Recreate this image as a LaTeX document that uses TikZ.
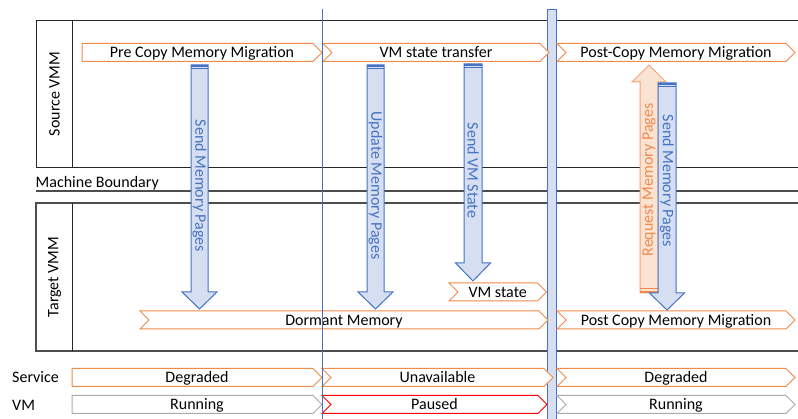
\documentclass[tikz,border=0pt]{standalone}
\usepackage{fontspec}
\setmainfont{Carlito}
\definecolor{accblue}{HTML}{4472C4}
\definecolor{lightblue}{HTML}{D6DFF2}
\definecolor{chevorange}{HTML}{F08A4B}
\definecolor{arroworange}{HTML}{F4A373}
\definecolor{lightorange}{HTML}{FBE3D4}
\definecolor{chevgray}{HTML}{ABABAB}
\definecolor{chevred}{HTML}{FF0000}
\definecolor{framegray}{HTML}{4D4D4D}

% chevron: #1 style, #2 name, #3 left x, #4 tip x, #5 centre y, #6 notch depth, #7 label
\newcommand\chevron[7]{%
  \draw[#1] (#3,#5-9) -- ({#4-9},#5-9) -- (#4,#5) -- ({#4-9},#5+9) -- (#3,#5+9) -- ({#3+#6},#5) -- cycle;
  \node[chevtext] (#2) at ({(#3+#4)/2},#5+5.3) {#7};
}
% downward block arrow: #1 shaft left, #2 shaft right, #3 top, #4 head base, #5 tip, #6 head half width
\newcommand\flowdown[6]{%
  \draw[blueflow] (#1,#3) -- (#2,#3) -- (#2,#4) -- ({(#1+#2)/2+#6},#4) -- ({(#1+#2)/2},#5)
    -- ({(#1+#2)/2-#6},#4) -- (#1,#4) -- cycle;
  \fill[accblue] (#1,#3) rectangle (#2,#3+2);
  \fill[accblue] (#1,#3+3.5) rectangle (#2,#3+4.5);
}

\tikzset{
  basefont/.style={font=\fontsize{16}{19}\selectfont},
  chevtext/.style={basefont, inner sep=0pt, text=black, anchor=base},
  orangechev/.style={draw=chevorange, line width=1pt, fill=white},
  graychev/.style={draw=chevgray, line width=1pt, fill=white},
  redchev/.style={draw=chevred, line width=1pt, fill=white},
  blueflow/.style={draw=accblue, line width=1pt, fill=lightblue},
  orangeflow/.style={draw=arroworange, line width=1pt, fill=lightorange},
  flowtext/.style={basefont, inner sep=0pt, text=accblue},
  reqtext/.style={basefont, inner sep=0pt, text=chevorange},
  frame/.style={draw=black!85, line width=0.9pt},
  rowlabel/.style={basefont, inner sep=0pt, anchor=base west},
}

\begin{document}
\begin{tikzpicture}[x=1pt, y=-1pt]
\useasboundingbox (0,0) rectangle (798,419);

% source and target lanes
\draw[frame] (798,20) -- (36,20) -- (36,167) -- (798,167);
\draw[frame] (72,20) -- (72,167);
\draw[framegray, line width=1.1pt] (798,203) -- (36,203) -- (36,351) -- (798,351);
\draw[frame] (72,203) -- (72,351);
\draw[framegray, line width=2pt] (36,191) -- (798,191);

\node[basefont, inner sep=0pt, rotate=90] (srclabel) at (54.5,94) {Source VMM};
\node[basefont, inner sep=0pt, rotate=90] (tgtlabel) at (54.5,277) {Target VMM};
\node[rowlabel] (boundary) at (35.5,187.5) {Machine Boundary};
\node[rowlabel] (servicelbl) at (12,383) {Service};
\node[rowlabel] (vmlbl) at (12,410) {VM};

% switch-over band
\draw[accblue, fill=lightblue, line width=0.9pt] (547,9) rectangle (556.5,421);

% source phases
\chevron{orangechev}{precopy}{82}{322}{52.5}{0}{Pre Copy Memory Migration}
\chevron{orangechev}{statexfer}{323}{549}{52.5}{9}{VM state transfer}
\chevron{orangechev}{postcopy}{557}{795}{52.5}{9}{Post-Copy Memory Migration}

% target phases
\chevron{orangechev}{vmstate}{449}{546.5}{292}{9}{VM state}
\chevron{orangechev}{dormant}{140}{548}{320}{9}{Dormant Memory}
\chevron{orangechev}{postcopytgt}{557}{795}{320}{9}{Post Copy Memory Migration}

% service status
\chevron{orangechev}{svcdeg}{72}{322}{377.5}{0}{Degraded}
\chevron{orangechev}{svcunav}{322}{553}{377.5}{9}{Unavailable}
\chevron{orangechev}{svcdeg2}{557}{795}{377.5}{9}{Degraded}

% VM status
\chevron{graychev}{vmrun}{72}{322}{404.5}{0}{Running}
\chevron{redchev}{vmpause}{322}{547}{404.5}{9}{Paused}
\chevron{graychev}{vmrun2}{557}{795}{404.5}{9}{Running}

% stop-and-copy boundary
\draw[accblue, line width=0.9pt] (322,9) -- (322,421);

% transfers
\flowdown{191}{208}{65}{292}{309}{17.5}
\node[flowtext, rotate=-90] (sendpre) at (199.5,186) {Send Memory Pages};

\flowdown{367}{384}{65}{292}{309}{17.5}
\node[flowtext, rotate=-90] (update) at (375.5,185.5) {Update Memory Pages};

\flowdown{464}{482}{64}{263}{281}{17.5}
\node[flowtext, rotate=-90] (sendstate) at (473,170.5) {Send VM State};

% page fault request (upward)
\draw[orangeflow] (640,293) -- (658,293) -- (658,82) -- (666,82) -- (649,65) -- (632,82) -- (640,82) -- cycle;
\fill[chevorange] (640,293) rectangle (658,291);
\fill[chevorange] (640,289.5) rectangle (658,288.5);
\node[reqtext, rotate=90] (request) at (649,180) {Request Memory Pages};

\flowdown{658}{676}{83}{293}{310}{17.5}
\node[flowtext, rotate=-90] (sendpost) at (667,181) {Send Memory Pages};

\end{tikzpicture}
\end{document}
